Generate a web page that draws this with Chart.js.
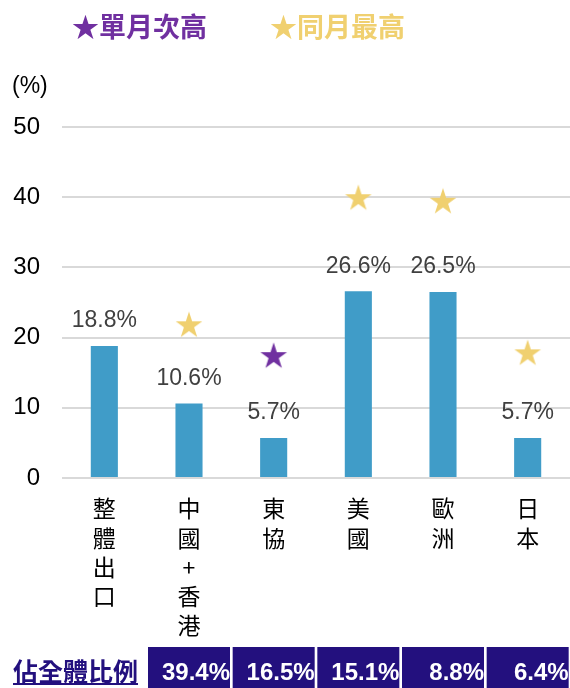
<!DOCTYPE html>
<html>
<head>
<meta charset="utf-8">
<script src="https://cdn.jsdelivr.net/npm/chart.js@4.4.1/dist/chart.umd.min.js"></script>
<style>
  body { margin: 0; background: #fff; }
  #wrap { position: relative; width: 570px; height: 688px; overflow: hidden; }
  #c01 { position: absolute; left: 0; top: 0; }
  .lbl { position: absolute; white-space: nowrap; font-family: "Liberation Sans", "Noto Sans CJK TC", sans-serif; }
  .leg { font-weight: bold; font-size: 27px; top: 6px; font-family: "Noto Sans CJK TC", sans-serif; }
</style>
</head>
<body>
<div id="wrap">
  <canvas id="c01" width="570" height="688"></canvas>
  <div class="lbl leg" style="left:72px; color:#7030a0;">★單月次高</div>
  <div class="lbl leg" style="left:270px; color:#f0d070;">★同月最高</div>
  <div class="lbl" style="left:12px; top:72px; font-size:23px; color:#000;">(%)</div>
  <div class="lbl" style="left:13px; top:655px; font-size:25px; font-weight:bold; color:#23107e; text-decoration:underline; font-family:'Noto Sans CJK TC', sans-serif; line-height:30px;">佔全體比例</div>
</div>
<script>
// categories and values
const categories = [['整','體','出','口'], ['中','國','+','香','港'], ['東','協'], ['美','國'], ['歐','洲'], ['日','本']];
const growth = [18.8, 10.6, 5.7, 26.6, 26.5, 5.7];
const starSecond = [null, null, 17.5, null, null, null];   // 單月次高
const starHighest = [null, 21.9, null, 40.0, 39.5, 17.9];  // 同月最高
const shareLabels = ['39.4%', '16.5%', '15.1%', '8.8%', '6.4%'];
const yTicks = [0, 10, 20, 30, 40, 50];

function makeStar(color) {
    const cv = document.createElement('canvas');
    cv.width = 28; cv.height = 28;
    const g = cv.getContext('2d');
    const R = 14, r = 14 * 0.382, cx = 14, cy = 15.3;
    g.beginPath();
    for (let i = 0; i < 10; i++) {
        const rad = i % 2 === 0 ? R : r;
        const a = -Math.PI / 2 + i * Math.PI / 5;
        g.lineTo(cx + rad * Math.cos(a), cy + rad * Math.sin(a));
    }
    g.closePath();
    g.fillStyle = color;
    g.fill();
    return cv;
}

const barLabels = {
    id: 'barLabels',
    afterDatasetsDraw(chart) {
        const ctx = chart.ctx;
        const meta = chart.getDatasetMeta(0);
        ctx.save();
        ctx.font = '23px "Liberation Sans", sans-serif';
        ctx.fillStyle = '#404040';
        ctx.textAlign = 'center';
        ctx.textBaseline = 'middle';
        meta.data.forEach((bar, i) => {
            ctx.fillText(growth[i].toFixed(1) + '%', bar.x, bar.y - 25);
        });
        ctx.restore();
    }
};

const shareRow = {
    id: 'shareRow',
    afterDraw(chart) {
        const ctx = chart.ctx;
        const xs = chart.scales.x;
        ctx.save();
        shareLabels.forEach((txt, i) => {
            const cx = xs.getPixelForValue(i + 1);
            ctx.fillStyle = '#23107e';
            ctx.fillRect(cx - 41, 647, 82, 41);
            ctx.fillStyle = '#ffffff';
            ctx.font = 'bold 24px "Liberation Sans", sans-serif';
            ctx.textAlign = 'right';
            ctx.textBaseline = 'middle';
            ctx.fillText(txt, cx + 41, 673);
        });
        ctx.restore();
    }
};

new Chart(document.getElementById('c01'), {
    type: 'bar',
    data: {
        labels: categories,
        datasets: [
            {
                label: '成長率',
                data: growth,
                backgroundColor: '#409cc8',
                categoryPercentage: 1,
                barPercentage: 0.32,
                order: 2
            },
            {
                type: 'line',
                label: '單月次高',
                data: starSecond,
                showLine: false,
                pointStyle: makeStar('#7030a0'),
                order: 1
            },
            {
                type: 'line',
                label: '同月最高',
                data: starHighest,
                showLine: false,
                pointStyle: makeStar('#f0d070'),
                order: 1
            }
        ]
    },
    options: {
        responsive: false,
        animation: false,
        layout: { autoPadding: false, padding: { top: 127, right: 0, left: 0, bottom: 0 } },
        plugins: {
            legend: { display: false },
            tooltip: { enabled: false }
        },
        scales: {
            x: {
                grid: { display: false, drawTicks: false },
                border: { display: false },
                ticks: {
                    color: '#000',
                    padding: 16,
                    maxRotation: 0,
                    autoSkip: false,
                    font: { size: 23, family: '"Noto Sans CJK TC", sans-serif', lineHeight: '29.2px' }
                },
                afterFit: scale => { scale.height = 210; }
            },
            y: {
                min: 0,
                max: 50,
                afterBuildTicks: scale => { scale.ticks = yTicks.map(v => ({ value: v })); },
                grid: { color: '#d9d9d9', lineWidth: 2, drawTicks: false },
                border: { display: false },
                ticks: {
                    color: '#000',
                    padding: 22,
                    font: { size: 24, family: '"Liberation Sans", sans-serif' }
                },
                afterFit: scale => { scale.width = 62; }
            }
        }
    },
    plugins: [barLabels, shareRow]
});
</script>
</body>
</html>
